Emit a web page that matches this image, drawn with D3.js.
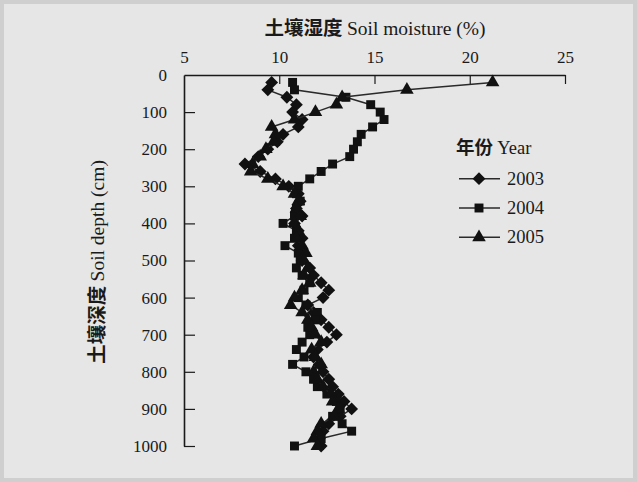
<!DOCTYPE html>
<html>
<head>
<meta charset="utf-8">
<script src="https://cdn.jsdelivr.net/npm/d3@7"></script>
<style>
  body { margin: 0; background: #e5e5e5; }
  svg { display: block; }
</style>
</head>
<body>
<svg width="637" height="482"></svg>
<script>
// depths (cm)
const depths = [20,40,60,80,100,120,140,160,180,200,220,240,260,280,300,320,340,360,380,400,
  420,440,460,480,500,520,540,560,580,600,620,640,660,680,700,720,740,760,780,800,
  820,840,860,880,900,920,940,960,980,1000];

// soil moisture (%) per year
const moist2003 = [9.6,9.4,10.4,10.9,10.7,11.2,11.0,10.2,9.9,9.4,8.9,8.2,9.0,9.8,10.5,11.0,11.1,10.9,11.2,10.8,
  11.0,11.2,11.0,11.3,11.2,11.6,11.8,12.2,12.6,12.3,11.5,11.8,12.2,12.6,13.0,12.5,12.0,11.8,12.1,12.3,
  12.6,12.8,13.1,13.4,13.8,13.2,12.6,12.3,12.1,12.2];
const moist2004 = [10.7,10.8,13.5,14.8,15.3,15.5,14.9,14.3,14.1,13.9,13.7,12.8,12.2,11.6,11.0,10.9,11.1,10.9,10.8,10.2,
  10.9,10.8,10.3,11.0,11.1,10.9,11.2,11.6,11.3,11.0,11.4,12.0,11.9,11.5,11.6,11.2,10.9,11.3,10.7,11.4,
  11.8,12.0,12.5,13.0,13.2,12.8,13.3,13.8,12.2,10.8];
const moist2005 = [21.2,16.7,13.3,13.0,11.9,10.8,9.6,9.8,9.7,9.3,9.0,8.6,8.5,9.4,10.2,10.8,11.0,10.9,11.1,10.8,
  11.0,10.9,11.2,11.4,11.3,11.5,11.3,11.6,11.2,10.8,10.6,11.2,11.5,11.7,11.9,12.2,11.7,11.9,12.2,11.8,
  12.0,12.3,12.7,12.8,13.1,12.9,12.2,12.0,11.8,12.0];

const years = ["2003", "2004", "2005"];
const xTicks = [5, 10, 15, 20, 25];
const yTicks = [0,100,200,300,400,500,600,700,800,900,1000];

const series = [
  {year: years[0], values: moist2003, sym: d3.symbolDiamond2, size: 105},
  {year: years[1], values: moist2004, sym: d3.symbolSquare, size: 80},
  {year: years[2], values: moist2005, sym: d3.symbolTriangle, size: 80}
];

const svg = d3.select("svg");
const serif = "'Liberation Serif', 'Times New Roman', serif";
const cjk = "'Noto Sans CJK SC', sans-serif";
const ink = "#1a1a1a";

// paper background
svg.append("rect")
    .attr("width", 637).attr("height", 482)
    .attr("fill", "#e6e6e6");
svg.append("rect")
    .attr("x", 2).attr("y", 2).attr("width", 633).attr("height", 478)
    .attr("fill", "none").attr("stroke", "#cfcfcf").attr("stroke-width", 4);

const x = d3.scaleLinear().domain([5, 25]).range([184, 565]);
const y = d3.scaleLinear().domain([0, 1000]).range([75, 446]);

// top axis
const xAxis = svg.append("g")
    .attr("transform", "translate(0,75)")
    .call(d3.axisTop(x).tickValues(xTicks).tickSize(-9).tickSizeOuter(0).tickPadding(12));
xAxis.select(".domain").attr("stroke", ink).attr("stroke-width", 1.6);
xAxis.selectAll(".tick line").attr("stroke", ink).attr("stroke-width", 1.2)
    .filter(d => d === 5).remove();
xAxis.selectAll(".tick text")
    .attr("font-family", serif).attr("font-size", 17).attr("fill", ink);

// left axis
const yAxis = svg.append("g")
    .attr("transform", "translate(184,0)")
    .call(d3.axisLeft(y).tickValues(yTicks).tickFormat(d3.format("d"))
      .tickSize(-11).tickSizeOuter(0).tickPadding(17));
yAxis.select(".domain").attr("stroke", ink).attr("stroke-width", 1.6);
yAxis.selectAll(".tick line").attr("stroke", ink).attr("stroke-width", 1.2)
    .filter(d => d === 0).remove();
yAxis.selectAll(".tick text")
    .attr("font-family", serif).attr("font-size", 17).attr("fill", ink);

// titles
const title = svg.append("text")
    .attr("x", 375).attr("y", 35)
    .attr("text-anchor", "middle")
    .attr("fill", ink).attr("font-size", 19.5);
title.append("tspan").attr("font-family", cjk).attr("font-weight", "bold").text("土壤湿度 ");
title.append("tspan").attr("font-family", serif).text("Soil moisture (%)");

const ytitle = svg.append("text")
    .attr("transform", "translate(104,262) rotate(-90)")
    .attr("text-anchor", "middle")
    .attr("fill", ink).attr("font-size", 19.5);
ytitle.append("tspan").attr("font-family", cjk).attr("font-weight", "bold").text("土壤深度 ");
ytitle.append("tspan").attr("font-family", serif).text("Soil depth (cm)");

// lines and markers
const line = d3.line()
    .x(d => x(d.v))
    .y(d => y(d.d));

series.forEach(s => {
  const pts = s.values.map((v, i) => ({v: v, d: depths[i]}));
  svg.append("path")
      .datum(pts)
      .attr("d", line)
      .attr("fill", "none")
      .attr("stroke", "#2a2a2a")
      .attr("stroke-width", 1.5);
  svg.append("g").selectAll("path")
      .data(pts)
      .join("path")
      .attr("transform", d => `translate(${x(d.v)},${y(d.d)})`)
      .attr("d", d3.symbol().type(s.sym).size(s.size))
      .attr("fill", "#111");
});

// legend
const legend = svg.append("g");
const lt = legend.append("text")
    .attr("x", 456).attr("y", 154)
    .attr("fill", ink).attr("font-size", 18.5);
lt.append("tspan").attr("font-family", cjk).attr("font-weight", "bold").text("年份 ");
lt.append("tspan").attr("font-family", serif).text("Year");

const legendY = d3.scaleBand().domain(years).range([164, 252]);
series.forEach(s => {
  const cy = legendY(s.year) + legendY.bandwidth() / 2;
  legend.append("line")
      .attr("x1", 459).attr("x2", 500)
      .attr("y1", cy).attr("y2", cy)
      .attr("stroke", "#2a2a2a").attr("stroke-width", 1.5);
  legend.append("path")
      .attr("transform", `translate(479,${cy})`)
      .attr("d", d3.symbol().type(s.sym).size(s.size))
      .attr("fill", "#111");
  legend.append("text")
      .attr("x", 507).attr("y", cy + 6)
      .attr("font-family", serif).attr("font-size", 18.5)
      .attr("fill", ink)
      .text(s.year);
});
</script>
</body>
</html>
